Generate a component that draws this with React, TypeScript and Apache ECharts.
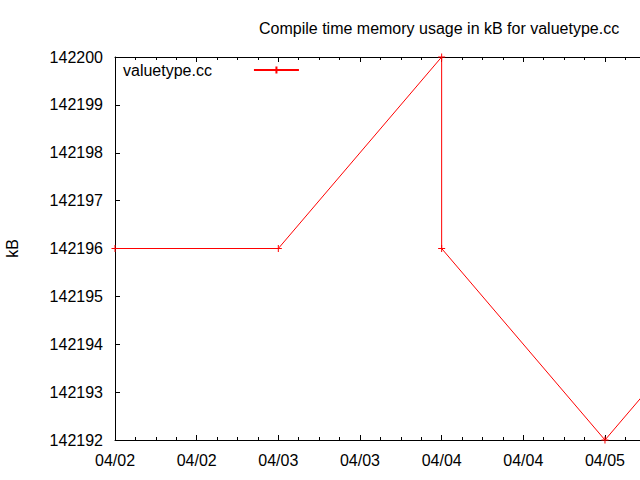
import React, { useEffect, useRef } from "react";
import * as echarts from "echarts";

// ---- data ----
const times = [
  "2010-04-02T00:00:00Z",
  "2010-04-03T00:00:00Z",
  "2010-04-04T00:00:00Z",
  "2010-04-04T00:00:00Z",
  "2010-04-05T00:00:00Z",
  "2010-04-06T00:00:00Z",
];
const memoryKB = [142196, 142196, 142200, 142196, 142192, 142196];
const xRange = ["2010-04-02T00:00:00Z", "2010-04-06T00:00:00Z"];
// last tick label that is visible in the reference (the plot runs past the right edge)
const lastVisibleTick = "2010-04-05T00:00:00Z";
const yRange = [142192, 142200];
const seriesName = "valuetype.cc";
const titleText = "Compile time memory usage in kB for valuetype.cc";
const yAxisName = "kB";

const HOUR = 3600 * 1000;
const FONT = "'Liberation Sans', Arial, sans-serif";

function fmtDate(v: number): string {
  const d = new Date(v);
  const mm = String(d.getUTCMonth() + 1).padStart(2, "0");
  const dd = String(d.getUTCDate()).padStart(2, "0");
  return `${mm}/${dd}`;
}

export default function App() {
  const ref = useRef<HTMLDivElement>(null);
  useEffect(() => {
    document.body.style.margin = "0";
    if (!ref.current) return;
    const chart = echarts.init(ref.current, undefined, { renderer: "svg" });
    const xMin = Date.parse(xRange[0]);
    const xMax = Date.parse(xRange[1]);
    const xLastLabel = Date.parse(lastVisibleTick);
    const axisLine = { show: true, onZero: false, lineStyle: { color: "#000", width: 1 } };
    const axisTick = { show: true, inside: true, length: 5, lineStyle: { color: "#000", width: 1 } };
    const minorTick = { show: true, splitNumber: 4, length: 3, lineStyle: { color: "#000", width: 1 } };
    const labelStyle = { fontFamily: FONT, fontSize: 16, color: "#000" };
    chart.setOption({
      animation: false,
      title: {
        text: titleText,
        left: 259,
        top: 20,
        padding: 0,
        textStyle: { fontFamily: FONT, fontSize: 16, fontWeight: "normal", color: "#000" },
      },
      legend: {
        data: [seriesName],
        left: 123,
        top: 62,
        padding: 0,
        align: "right",
        itemWidth: 45,
        itemHeight: 9,
        textStyle: { fontFamily: FONT, fontSize: 16, color: "#000", padding: [0, 37, 0, 0] },
      },
      grid: {
        left: 115,
        top: 57,
        bottom: 40,
        right: -128.3,
        containLabel: false,
        outerBoundsMode: "none",
      },
      xAxis: [
        {
          type: "value",
          position: "bottom",
          min: xMin,
          max: xMax,
          interval: 12 * HOUR,
          axisLine,
          axisTick,
          minorTick,
          splitLine: { show: false },
          axisLabel: {
            ...labelStyle,
            margin: 12,
            formatter: (v: number) => (v > xLastLabel ? "" : fmtDate(v)),
          },
        },
        {
          type: "value",
          position: "top",
          min: xMin,
          max: xMax,
          interval: 12 * HOUR,
          axisLine,
          axisTick,
          minorTick,
          splitLine: { show: false },
          axisLabel: { show: false },
        },
      ],
      yAxis: {
        type: "value",
        min: yRange[0],
        max: yRange[1],
        interval: 1,
        axisLine,
        axisTick,
        splitLine: { show: false },
        axisLabel: { ...labelStyle, margin: 12, formatter: (v: number) => String(v) },
        name: yAxisName,
        nameLocation: "middle",
        nameRotate: 90,
        nameGap: 95,
        nameTextStyle: labelStyle,
      },
      series: [
        {
          type: "line",
          name: seriesName,
          xAxisIndex: 0,
          data: times.map((t, i) => [Date.parse(t), memoryKB[i]]),
          symbol: "path://M0 5H10M5 0V10",
          symbolSize: 7,
          showSymbol: true,
          clip: true,
          lineStyle: { color: "#ff0000", width: 1 },
          itemStyle: { color: "#ff0000", borderColor: "#ff0000", borderWidth: 1 },
        },
      ],
    });
    return () => chart.dispose();
  }, []);
  return <div ref={ref} style={{ width: 640, height: 480, overflow: "hidden" }} />;
}
